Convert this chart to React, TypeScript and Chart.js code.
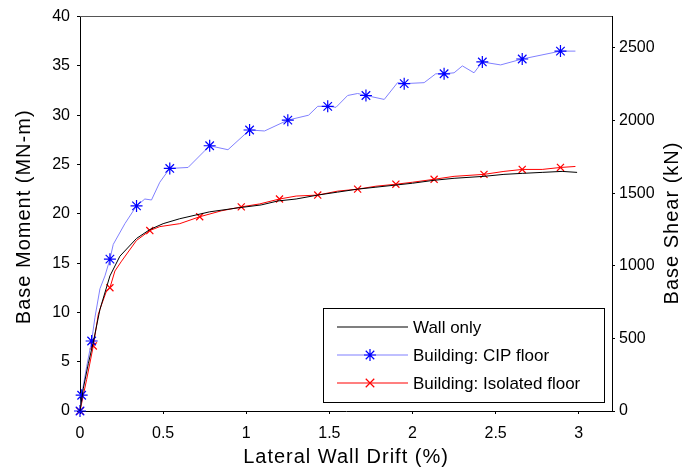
import React, { useEffect, useRef } from "react";
import { Chart, registerables } from "chart.js";

Chart.register(...registerables);

// ---- Data ----
const xTicks = [0, 0.5, 1, 1.5, 2, 2.5, 3];
const momentTicks = [0, 5, 10, 15, 20, 25, 30, 35, 40];
const shearTicks = [0, 500, 1000, 1500, 2000, 2500];

const seriesNames = ["Wall only", "Building: CIP floor", "Building: Isolated floor"];
const xTitle = "Lateral Wall Drift (%)";
const yTitle = "Base Moment (MN-m)";
const y2Title = "Base Shear (kN)";

const wallX = [0, 0.02, 0.05, 0.08, 0.12, 0.18, 0.24, 0.34, 0.42, 0.5, 0.6, 0.78, 0.95, 1.09, 1.19, 1.3, 1.43, 1.55, 1.67, 1.78, 1.89, 2.0, 2.13, 2.25, 2.43, 2.55, 2.66, 2.78, 2.9, 2.99];
const wallY = [0, 2.3, 4.8, 7.0, 10.3, 13.7, 15.7, 17.5, 18.4, 19.0, 19.5, 20.2, 20.6, 20.9, 21.3, 21.5, 21.9, 22.2, 22.5, 22.7, 22.9, 23.1, 23.4, 23.6, 23.8, 24.0, 24.1, 24.2, 24.3, 24.2];

const cipX = [0, 0.01, 0.04, 0.07, 0.09, 0.12, 0.15, 0.18, 0.2, 0.27, 0.34, 0.39, 0.43, 0.48, 0.54, 0.65, 0.78, 0.89, 1.02, 1.11, 1.25, 1.375, 1.43, 1.49, 1.54, 1.61, 1.67, 1.72, 1.83, 1.91, 1.95, 2.07, 2.14, 2.19, 2.25, 2.3, 2.37, 2.42, 2.53, 2.66, 2.89, 2.98];
const cipY = [0, 1.6, 4.5, 7.1, 9.5, 12.4, 13.7, 15.4, 16.9, 19.0, 20.8, 21.5, 21.4, 23.2, 24.6, 24.7, 26.9, 26.5, 28.5, 28.4, 29.5, 30.0, 30.9, 30.9, 30.8, 32.0, 32.2, 32.0, 31.6, 33.3, 33.2, 33.3, 34.2, 34.2, 34.3, 35.0, 34.3, 35.4, 35.1, 35.7, 36.5, 36.5];
const cipMarkers = [0, 1, 3, 7, 10, 14, 16, 18, 20, 23, 27, 30, 33, 37, 39, 40];

const isoX = [0, 0.04, 0.08, 0.11, 0.13, 0.16, 0.18, 0.21, 0.25, 0.34, 0.42, 0.48, 0.6, 0.72, 0.85, 0.97, 1.08, 1.2, 1.3, 1.43, 1.55, 1.67, 1.78, 1.9, 2.0, 2.13, 2.25, 2.43, 2.55, 2.66, 2.78, 2.89, 2.98];
const isoY = [0, 3.2, 6.6, 9.8, 10.8, 12.2, 12.5, 14.2, 15.2, 17.3, 18.3, 18.7, 19.0, 19.7, 20.3, 20.7, 21.0, 21.5, 21.8, 21.9, 22.3, 22.5, 22.8, 23.0, 23.2, 23.5, 23.8, 24.0, 24.3, 24.5, 24.5, 24.7, 24.8];
const isoMarkers = [0, 2, 6, 10, 13, 15, 17, 19, 21, 23, 25, 27, 29, 31];

const FONT = "'Liberation Sans', Arial, Helvetica, sans-serif";

function pts(xs: number[], ys: number[]) {
  return xs.map((x, i) => ({ x, y: ys[i] }));
}

function drawStar(ctx: CanvasRenderingContext2D, x: number, y: number, r: number) {
  const d = r * Math.SQRT1_2;
  ctx.beginPath();
  ctx.moveTo(x - r, y); ctx.lineTo(x + r, y);
  ctx.moveTo(x, y - r); ctx.lineTo(x, y + r);
  ctx.moveTo(x - d, y - d); ctx.lineTo(x + d, y + d);
  ctx.moveTo(x - d, y + d); ctx.lineTo(x + d, y - d);
  ctx.stroke();
}
function drawX(ctx: CanvasRenderingContext2D, x: number, y: number, r: number) {
  const d = r * Math.SQRT1_2;
  ctx.beginPath();
  ctx.moveTo(x - d, y - d); ctx.lineTo(x + d, y + d);
  ctx.moveTo(x - d, y + d); ctx.lineTo(x + d, y - d);
  ctx.stroke();
}

function drawTitle(ctx: any, text: string, x: number, y: number, rot: number) {
  ctx.save();
  ctx.translate(x, y);
  ctx.rotate(rot);
  ctx.font = `20px ${FONT}`;
  try { ctx.letterSpacing = "1px"; } catch (e) { /* ignore */ }
  ctx.fillStyle = "#000";
  ctx.textAlign = "center";
  ctx.textBaseline = "middle";
  ctx.fillText(text, 0, 0);
  ctx.restore();
}

const framePlugin = {
  id: "frameAndLegend",
  afterDraw(chart: any) {
    const { ctx, chartArea } = chart;
    ctx.save();
    // top border
    ctx.strokeStyle = "#555";
    ctx.lineWidth = 1;
    ctx.beginPath();
    ctx.moveTo(chartArea.left, Math.floor(chartArea.top) + 0.5);
    ctx.lineTo(chartArea.right, Math.floor(chartArea.top) + 0.5);
    ctx.stroke();

    // axis titles
    drawTitle(ctx, xTitle, (chartArea.left + chartArea.right) / 2, 457, 0);
    drawTitle(ctx, yTitle, 24, (chartArea.top + chartArea.bottom) / 2 + 3, -Math.PI / 2);
    drawTitle(ctx, y2Title, 672, 223, -Math.PI / 2);

    // legend box
    const bx = 323.5, by = 308.5, bw = 281, bh = 94;
    ctx.fillStyle = "#fff";
    ctx.fillRect(bx, by, bw, bh);
    ctx.strokeStyle = "#000";
    ctx.lineWidth = 1;
    ctx.strokeRect(bx, by, bw, bh);
    const rows = [327, 355, 383];
    const lineColors = ["#000000", "#8080ff", "#ff0000"];
    ctx.font = `17px ${FONT}`;
    ctx.textBaseline = "middle";
    ctx.textAlign = "left";
    for (let i = 0; i < rows.length; i++) {
      const ry = rows[i];
      ctx.beginPath();
      ctx.strokeStyle = lineColors[i];
      ctx.lineWidth = 1.2;
      ctx.moveTo(337, ry);
      ctx.lineTo(408, ry);
      ctx.stroke();
      if (i === 1) {
        ctx.strokeStyle = "#0000ff";
        ctx.lineWidth = 1.2;
        drawStar(ctx, 370, ry, 6);
      } else if (i === 2) {
        ctx.strokeStyle = "#ff0000";
        ctx.lineWidth = 1.2;
        drawX(ctx, 370, ry, 6);
      }
      ctx.fillStyle = "#000";
      ctx.fillText(seriesNames[i], 413, ry + 1);
    }
    ctx.restore();
  },
};

const fmt = (v: any) => String(v);

export default function App() {
  const ref = useRef<HTMLCanvasElement | null>(null);

  useEffect(() => {
    if (!ref.current) return;
    const chart = new Chart(ref.current, {
      type: "line",
      data: {
        datasets: [
          {
            label: seriesNames[0],
            data: pts(wallX, wallY),
            borderColor: "#000000",
            borderWidth: 1,
            pointRadius: 0,
            yAxisID: "y",
            clip: false as any,
          },
          {
            label: seriesNames[1],
            data: pts(cipX, cipY),
            borderColor: "#8080ff",
            borderWidth: 1,
            pointStyle: "star",
            pointRadius: (c: any) => (cipMarkers.includes(c.dataIndex) ? 6 : 0),
            pointBorderColor: "#0000ff",
            pointBackgroundColor: "#0000ff",
            pointBorderWidth: 1.2,
            yAxisID: "y",
            clip: false as any,
          },
          {
            label: seriesNames[2],
            data: pts(isoX, isoY),
            borderColor: "#ff0000",
            borderWidth: 1,
            pointStyle: "crossRot",
            pointRadius: (c: any) => (isoMarkers.includes(c.dataIndex) ? 5 : 0),
            pointBorderColor: "#ff0000",
            pointBackgroundColor: "#ff0000",
            pointBorderWidth: 1.2,
            yAxisID: "y",
            clip: false as any,
          },
        ],
      },
      options: {
        animation: false,
        responsive: false,
        maintainAspectRatio: false,
        layout: { padding: { top: 13, left: 0, right: 0, bottom: 0 } },
        plugins: { legend: { display: false }, tooltip: { enabled: false } },
        elements: { line: { tension: 0 } },
        scales: {
          x: {
            type: "linear",
            min: 0,
            max: 3.2,
            afterBuildTicks: (s: any) => { s.ticks = xTicks.map((v) => ({ value: v })); },
            afterFit: (s: any) => { s.height = 57; },
            ticks: { color: "#000", font: { family: FONT, size: 16 }, padding: 10, maxRotation: 0, callback: fmt },
            grid: { drawOnChartArea: false, tickLength: 3, color: "#000" },
            border: { color: "#000", width: 1 },
            title: { display: false },
          },
          y: {
            type: "linear",
            position: "left",
            min: 0,
            max: 40,
            afterBuildTicks: (s: any) => { s.ticks = momentTicks.map((v) => ({ value: v })); },
            afterFit: (s: any) => { s.width = 80; },
            ticks: { color: "#000", font: { family: FONT, size: 16 }, padding: 7, callback: fmt },
            grid: { drawOnChartArea: false, tickLength: 3, color: "#000" },
            border: { color: "#000", width: 1 },
            title: { display: false },
          },
          y2: {
            type: "linear",
            position: "right",
            min: 0,
            max: 2715,
            afterBuildTicks: (s: any) => { s.ticks = shearTicks.map((v) => ({ value: v })); },
            afterFit: (s: any) => { s.width = 72; },
            ticks: { color: "#000", font: { family: FONT, size: 16 }, padding: 4, callback: fmt },
            grid: { drawOnChartArea: false, tickLength: 3, color: "#000" },
            border: { color: "#000", width: 1 },
            title: { display: false },
          },
        },
      },
      plugins: [framePlugin],
    } as any);
    return () => chart.destroy();
  }, []);

  return (
    <div style={{ position: "absolute", left: 0, top: 0, width: 684, height: 468, background: "#fff" }}>
      <canvas ref={ref} width={684} height={468} style={{ width: 684, height: 468 }} />
    </div>
  );
}
